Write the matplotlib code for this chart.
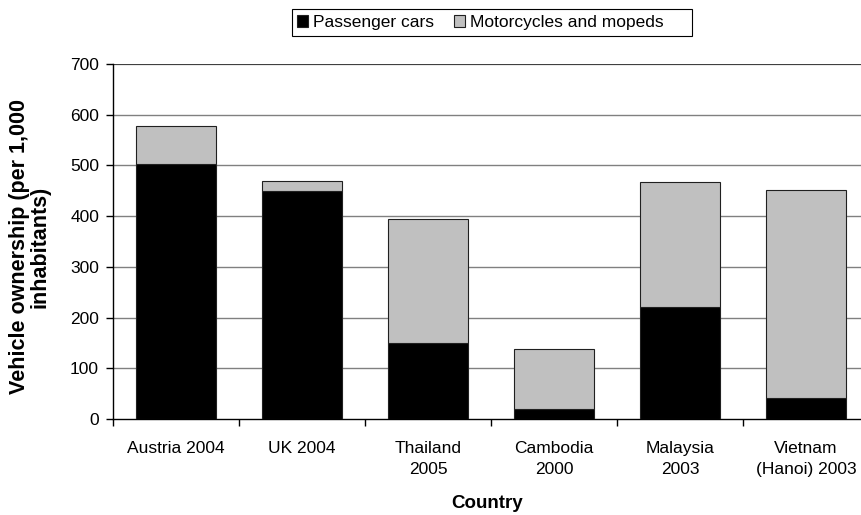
import matplotlib
matplotlib.use("Agg")
import matplotlib.pyplot as plt
from matplotlib.patches import Patch, Rectangle
import numpy as np

plt.rcParams['font.family'] = ['Liberation Sans', 'DejaVu Sans']

countries = ["Austria 2004", "UK 2004", "Thailand\n2005", "Cambodia\n2000",
             "Malaysia\n2003", "Vietnam\n(Hanoi) 2003"]
passenger_cars = [502, 450, 150, 20, 220, 41]
motorcycles = [75, 20, 245, 119, 247, 411]
y_ticks = [0, 100, 200, 300, 400, 500, 600, 700]

W, H = 861, 515
fig = plt.figure(figsize=(W / 100, H / 100), dpi=100)
# plot area runs a little past the right edge of the figure
ax = fig.add_axes([113 / W, 96 / H, 756 / W, 355 / H])

x = np.arange(len(countries))
w = 0.627
ax.bar(x, passenger_cars, w, color="black", edgecolor="#202020", linewidth=0.8,
       zorder=3)
ax.bar(x, motorcycles, w, bottom=passenger_cars, color="#c0c0c0",
       edgecolor="#202020", linewidth=0.8, zorder=3)

ax.set_xlim(-0.5, len(countries) - 0.5)
ax.set_ylim(0, 700)
ax.set_yticks(y_ticks)
for v in y_ticks[1:-1]:
    ax.axhline(v, color="#808080", lw=1.0, zorder=1)
ax.axhline(700, color="#404040", lw=1.6, zorder=1)

for s in ["top", "right"]:
    ax.spines[s].set_visible(False)
ax.spines["left"].set_linewidth(1.0)
ax.spines["bottom"].set_linewidth(1.0)

ax.set_xticks(x)
ax.set_xticklabels(countries, fontsize=12.5, linespacing=1.52)
ax.set_xticks(np.arange(len(countries) + 1) - 0.5, minor=True)
ax.tick_params(axis="x", which="major", length=0, pad=16)
ax.tick_params(axis="x", which="minor", length=5, width=1.0, direction="out")
ax.tick_params(axis="y", length=5, width=1.0, direction="out", labelsize=12.5,
               pad=5)

fig.text(30 / W, (H - 247) / H, "Vehicle ownership (per 1,000\ninhabitants)",
         rotation=90, ha="center", va="center", fontsize=15.5, fontweight="bold",
         linespacing=1.0)
fig.text(487 / W, (H - 503) / H, "Country", ha="center", va="center",
         fontsize=13.5, fontweight="bold")

# legend box drawn separately so it keeps the wide right margin
fig.patches.append(Rectangle((292 / W, (H - 36) / H), 400 / W, 27 / H,
                             transform=fig.transFigure, facecolor="white",
                             edgecolor="black", linewidth=0.8))
handles = [Patch(facecolor="black", edgecolor="#202020", linewidth=0.8),
           Patch(facecolor="#c0c0c0", edgecolor="#202020", linewidth=0.8)]
fig.legend(handles, ["Passenger cars", "Motorcycles and mopeds"],
           loc="center left", bbox_to_anchor=(297 / W, (H - 22.5) / H),
           ncol=2, fontsize=12.5, frameon=False, handlelength=0.63,
           handleheight=0.63, handletextpad=0.3, columnspacing=1.15,
           borderpad=0, borderaxespad=0)

fig.savefig("out.png", dpi=100)
